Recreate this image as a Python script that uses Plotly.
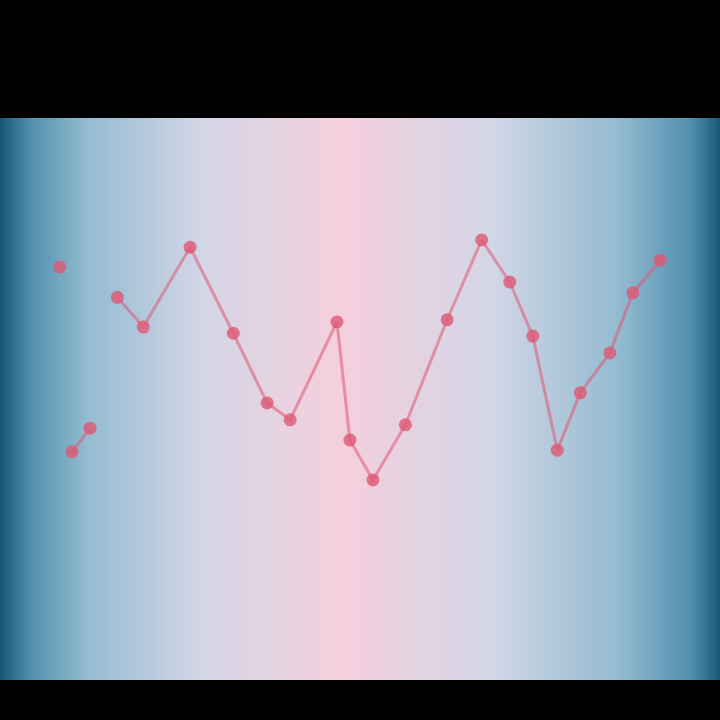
import plotly.graph_objects as go

# Series values; None marks a break in the line
x_vals = [8.3, None, 10.0, 12.5, None, 16.3, 19.9, 26.4, 32.4, 37.1, 40.3, 46.8,
          48.6, 51.8, 56.3, 62.1, 66.9, 70.8, 74.0, 77.4, 80.6, 84.7,
          87.9, 91.7]
y_vals = [73.5, None, 40.6, 44.8, None, 68.1, 62.8, 77.0, 61.7, 49.3, 46.3, 63.7,
          42.7, 35.6, 45.4, 64.1, 78.3, 70.8, 61.2, 40.9, 51.1, 58.2,
          68.9, 74.7]

# Background gradient (horizontal)
grad_x = [0, 4, 12, 28, 47, 68, 86, 96, 100]
grad_z = [0.0, 0.15, 0.38, 0.66, 1.0, 0.66, 0.38, 0.15, 0.0]
grad_y = [0, 100]

fig = go.Figure()
fig.add_trace(go.Heatmap(
    x=grad_x, y=grad_y, z=[grad_z, grad_z],
    zsmooth="best", showscale=False, hoverinfo="skip",
    colorscale=[[0, "#175774"], [0.15, "#4f8fae"], [0.38, "#93bbd0"],
                [0.66, "#d3d6e6"], [1, "#f5cfdc"]],
))
fig.add_trace(go.Scatter(
    x=x_vals, y=y_vals, mode="lines+markers", connectgaps=False,
    line=dict(color="rgba(222,88,115,0.55)", width=3),
    marker=dict(color="rgba(222,88,115,0.8)", size=13),
    showlegend=False,
))
fig.update_layout(
    width=720, height=720,
    paper_bgcolor="black", plot_bgcolor="black",
    margin=dict(l=0, r=0, t=118, b=40),
    xaxis=dict(range=[0, 100], visible=False),
    yaxis=dict(range=[0, 100], visible=False),
    showlegend=False,
)
fig.write_html("out.html", config={"displayModeBar": False},
               post_script="document.body.style.margin='0';")
